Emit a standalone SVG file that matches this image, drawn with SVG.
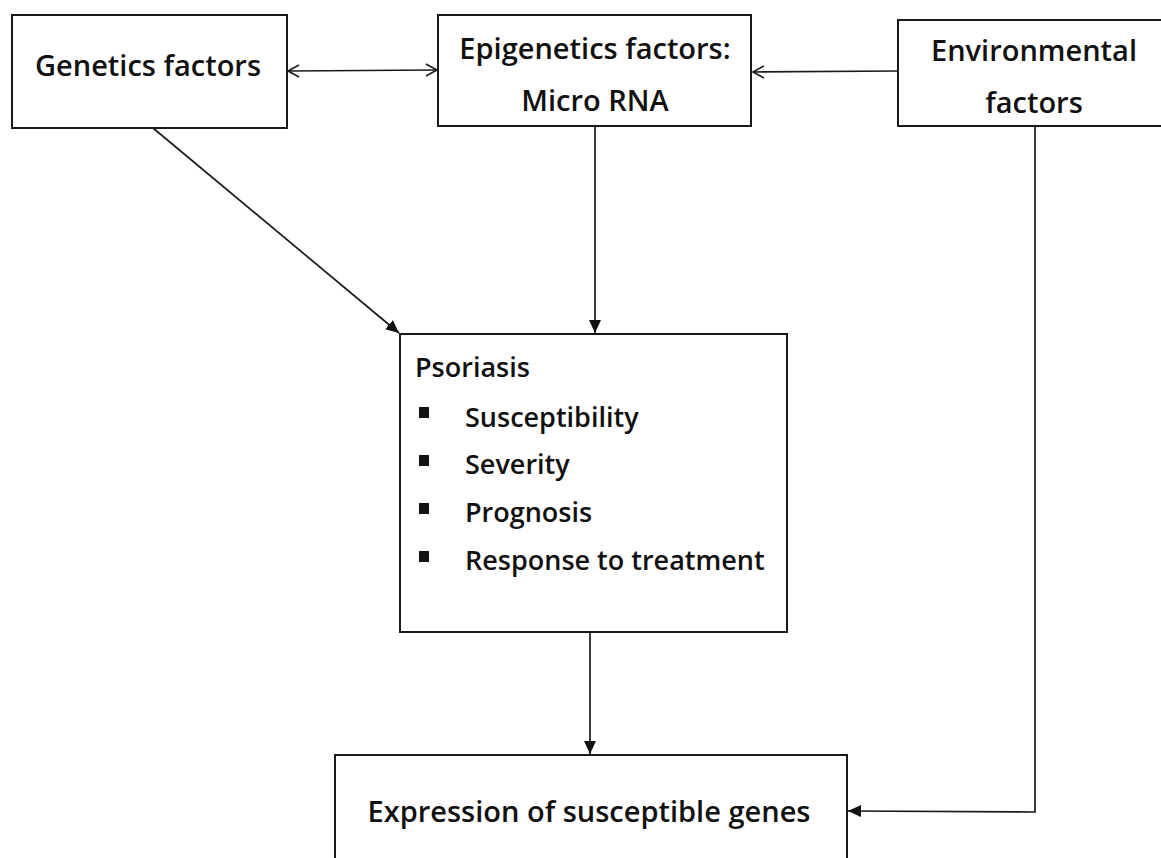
<svg xmlns="http://www.w3.org/2000/svg" width="1161" height="858" viewBox="0 0 1161 858">
<style>
.box{fill:#fff;stroke:#1a1a1a;stroke-width:2}
.t{font-family:"Open Sans","DejaVu Sans",sans-serif;font-size:29px;font-weight:600;fill:#111}
.s{font-size:27px}
.ln{fill:none;stroke:#1a1a1a;stroke-width:1.7}
</style>
<defs>
<marker id="open" markerWidth="14" markerHeight="14" refX="12" refY="7" orient="auto-start-reverse" markerUnits="userSpaceOnUse">
<path d="M1,1 L12,7 L1,13" fill="none" stroke="#1a1a1a" stroke-width="1.6"/>
</marker>
<marker id="fill" markerWidth="14" markerHeight="14" refX="13" refY="6" orient="auto" markerUnits="userSpaceOnUse">
<path d="M0,0 L13,6 L0,12 Z" fill="#111"/>
</marker>
</defs>
<rect width="1161" height="858" fill="#fff"/>
<g id="connectors">
<line class="ln" x1="288" y1="71" x2="437" y2="70" marker-start="url(#open)" marker-end="url(#open)"/>
<line class="ln" x1="898" y1="71" x2="753" y2="72" marker-end="url(#open)"/>
<line class="ln" x1="153" y1="128" x2="399" y2="333" marker-end="url(#fill)"/>
<line class="ln" x1="595" y1="126" x2="595" y2="333" marker-end="url(#fill)"/>
<line class="ln" x1="590" y1="632" x2="590" y2="754" marker-end="url(#fill)"/>
<polyline class="ln" points="1035,126 1035,812 848,811" marker-end="url(#fill)"/>
</g>
<g id="genetics">
<rect class="box" x="12" y="15" width="275" height="113"/>
<text class="t" x="148" y="76" text-anchor="middle">Genetics factors</text>
</g>
<g id="epigenetics">
<rect class="box" x="438" y="15" width="313" height="111"/>
<text class="t" x="595" y="59" text-anchor="middle">Epigenetics factors:</text>
<text class="t" x="595" y="111" text-anchor="middle">Micro RNA</text>
</g>
<g id="environmental">
<rect class="box" x="898" y="20" width="266" height="106"/>
<text class="t" x="1034" y="61" text-anchor="middle">Environmental</text>
<text class="t" x="1034" y="113" text-anchor="middle">factors</text>
</g>
<g id="psoriasis">
<rect class="box" x="400" y="334" width="387" height="298"/>
<text class="t s" x="415" y="377">Psoriasis</text>
<rect x="419" y="407" width="10" height="11" fill="#111"/>
<text class="t s" x="465" y="427">Susceptibility</text>
<rect x="419" y="455" width="10" height="11" fill="#111"/>
<text class="t s" x="465" y="474">Severity</text>
<rect x="419" y="503" width="10" height="11" fill="#111"/>
<text class="t s" x="465" y="522">Prognosis</text>
<rect x="419" y="551" width="10" height="11" fill="#111"/>
<text class="t s" x="465" y="570">Response to treatment</text>
</g>
<g id="expression">
<rect class="box" x="335" y="755" width="512" height="120"/>
<text class="t" x="589" y="822" text-anchor="middle">Expression of susceptible genes</text>
</g>
</svg>
